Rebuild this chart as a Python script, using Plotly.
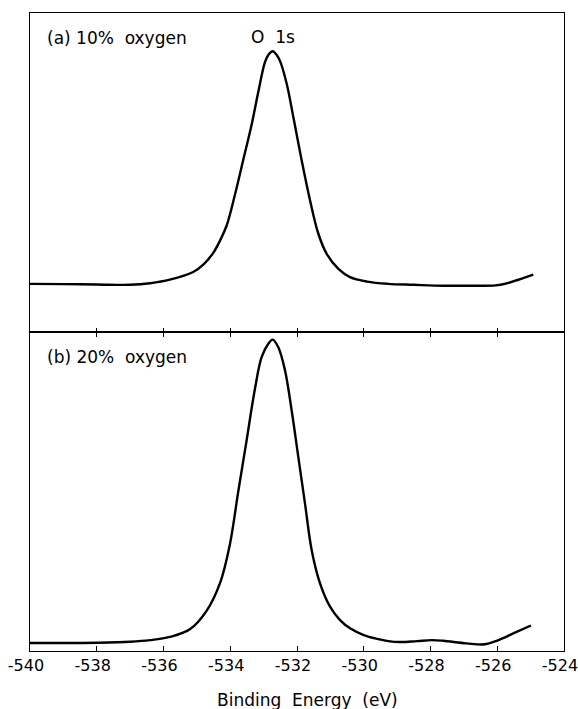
import plotly.graph_objects as go

# ---- data ----
energy_a = [-540.0, -539.0, -538.0, -537.0, -536.4, -535.81, -535.11, -534.8, -534.51,
            -534.3, -534.11, -533.86, -533.61, -533.36, -533.16, -532.96, -532.85, -532.73,
            -532.62, -532.51, -532.31, -532.11, -531.86, -531.61, -531.36, -531.11, -530.76,
            -530.41, -529.9, -529.27, -528.5, -527.6, -526.8, -526.05, -525.7, -525.39, -524.92]
counts_a = [0.151, 0.150, 0.149, 0.148, 0.153, 0.164, 0.188, 0.212, 0.248,
            0.288, 0.333, 0.430, 0.540, 0.650, 0.752, 0.846, 0.870, 0.880,
            0.870, 0.850, 0.779, 0.674, 0.538, 0.413, 0.308, 0.245, 0.198,
            0.172, 0.158, 0.151, 0.148, 0.145, 0.145, 0.146, 0.153, 0.163, 0.180]

energy_b = [-540.0, -539.0, -538.0, -537.0, -536.4, -535.81, -535.21, -534.71, -534.31,
            -534.01, -533.76, -533.51, -533.26, -533.06, -532.86, -532.73, -532.56,
            -532.36, -532.16, -531.96, -531.76, -531.56, -531.31, -531.01, -530.71,
            -530.41, -530.0, -529.6, -529.27, -528.91, -528.4, -527.96, -527.62,
            -526.92, -526.37, -526.02, -525.52, -524.99]
counts_b = [0.025, 0.025, 0.026, 0.029, 0.034, 0.044, 0.068, 0.126, 0.212,
            0.335, 0.500, 0.660, 0.822, 0.921, 0.963, 0.976, 0.952,
            0.880, 0.754, 0.608, 0.462, 0.316, 0.212, 0.139, 0.097,
            0.071, 0.050, 0.038, 0.031, 0.028, 0.031, 0.034, 0.032,
            0.024, 0.021, 0.032, 0.055, 0.080]

tick_values = [-540, -538, -536, -534, -532, -530, -528, -526, -524]
tick_labels = ["-540", "-538", "-536", "-534", "-532", "-530", "-528", "-526", "-524"]
mid_tick_values = [-538, -536, -534, -532, -530, -528, -526]

label_a = "(a) 10%\u00a0 oxygen"
label_b = "(b) 20%\u00a0 oxygen"
peak_label = "O\u00a0 1s"
x_title = "Binding\u00a0 Energy\u00a0 (eV)"

FONT = "DejaVu Sans"
LINE_W = 1.3
TICK_W = 1.3

fig = go.Figure()
fig.add_trace(go.Scatter(x=energy_a, y=counts_a, mode="lines", xaxis="x", yaxis="y",
                         line=dict(color="black", width=2.4, shape="spline", smoothing=1.0),
                         showlegend=False, hoverinfo="skip"))
fig.add_trace(go.Scatter(x=energy_b, y=counts_b, mode="lines", xaxis="x2", yaxis="y2",
                         line=dict(color="black", width=2.4, shape="spline", smoothing=1.0),
                         showlegend=False, hoverinfo="skip"))

common_x = dict(range=[-540, -524], showgrid=False, zeroline=False, automargin=False)
common_y = dict(range=[0, 1], showgrid=False, zeroline=False, showticklabels=False,
                ticks="", showline=True, linecolor="black", linewidth=LINE_W, mirror=True,
                automargin=False)

fig.update_layout(
    template="none",
    width=578, height=709,
    margin=dict(l=30, r=14, t=13, b=58),
    paper_bgcolor="white", plot_bgcolor="rgba(0,0,0,0)",
    showlegend=False,
    font=dict(family=FONT, color="black", size=16),
    # top panel: frame + upward ticks on the shared middle line
    xaxis=dict(**common_x, anchor="y", showline=True, linecolor="black",
               linewidth=LINE_W, mirror=True, ticks="inside", ticklen=4,
               tickwidth=TICK_W, tickcolor="black", tickvals=mid_tick_values,
               showticklabels=False),
    # bottom panel: labelled axis, inward ticks, mirrored ticks pointing down from the middle line
    xaxis2=dict(**common_x, anchor="y2", showline=True, linecolor="black",
                linewidth=LINE_W, mirror="ticks", ticks="inside", ticklen=5,
                tickwidth=TICK_W, tickcolor="black", tickvals=tick_values,
                ticktext=tick_labels, ticklabeloverflow="allow", ticklabelshift=-4,
                tickfont=dict(family=FONT, size=16, color="black")),
    yaxis=dict(**common_y, anchor="x", domain=[0.5, 1]),
    yaxis2=dict(**common_y, anchor="x2", domain=[0, 0.5]),
    annotations=[
        dict(text=label_a, xref="paper", yref="paper", x=0.028, y=0.961,
             xanchor="left", yanchor="middle", showarrow=False, font=dict(size=17)),
        dict(text=peak_label, xref="paper", yref="paper", x=0.455, y=0.962,
             xanchor="center", yanchor="middle", showarrow=False, font=dict(size=17)),
        dict(text=label_b, xref="paper", yref="paper", x=0.028, y=0.461,
             xanchor="left", yanchor="middle", showarrow=False, font=dict(size=17)),
        dict(text=x_title, xref="paper", yref="paper", x=0.519, y=-0.077,
             xanchor="center", yanchor="middle", showarrow=False, font=dict(size=17)),
    ],
)

fig.write_html("out.html")
